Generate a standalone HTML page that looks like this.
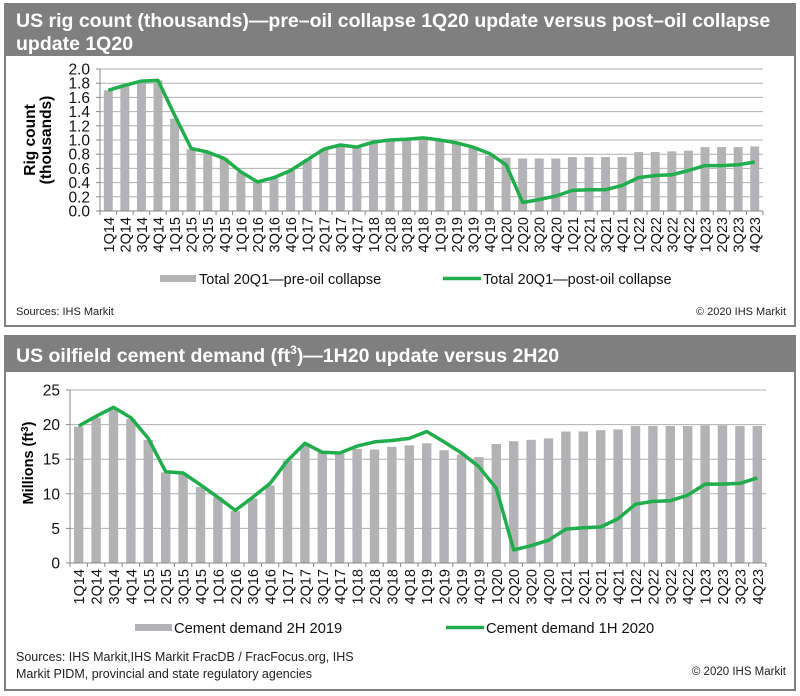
<!DOCTYPE html>
<html><head><meta charset="utf-8"><style>
body{margin:0;background:#fff;width:800px;height:696px;overflow:hidden;font-family:"Liberation Sans",Arial,sans-serif}
svg{display:block}
</style></head><body>
<svg id="s" width="800" height="696" xmlns="http://www.w3.org/2000/svg" font-family="Liberation Sans, Arial, sans-serif">
<rect x="5" y="4" width="790" height="322" fill="#fff" stroke="#7f7f7f" stroke-width="2"/>
<rect x="5" y="4" width="790" height="52" fill="#7f7f7f"/>
<text x="16" y="27" fill="#fff" font-size="19.5" font-weight="bold">US rig count (thousands)—pre–oil collapse 1Q20 update versus post–oil collapse</text>
<text x="16" y="50" fill="#fff" font-size="19.5" font-weight="bold">update 1Q20</text>
<rect x="5" y="336" width="790" height="354" fill="#fff" stroke="#7f7f7f" stroke-width="2"/>
<rect x="5" y="336" width="790" height="36" fill="#7f7f7f"/>
<text x="16" y="362" fill="#fff" font-size="19.5" font-weight="bold">US oilfield cement demand (ft<tspan font-size="12" dy="-8">3</tspan><tspan dy="8">)—1H20 update versus 2H20</tspan></text>
<g id="g"></g>
<text x="16" y="315" font-size="11" fill="#222">Sources: IHS Markit</text>
<text x="786" y="315" font-size="11" fill="#222" text-anchor="end">© 2020 IHS Markit</text>
<text x="16" y="661" font-size="12.5" fill="#222">Sources: IHS Markit,IHS Markit FracDB / FracFocus.org, IHS</text>
<text x="16" y="678" font-size="12.5" fill="#222">Markit PIDM, provincial and state regulatory agencies</text>
<text x="786" y="675" font-size="11.5" fill="#222" text-anchor="end">© 2020 IHS Markit</text>
<rect x="160" y="275" width="36" height="7" fill="#b3b3b6"/>
<text x="199" y="284" font-size="14.5" fill="#111">Total 20Q1—pre-oil collapse</text>
<line x1="443" y1="278.5" x2="481" y2="278.5" stroke="#1fae4b" stroke-width="3.5"/>
<text x="483" y="284" font-size="14.5" fill="#111">Total 20Q1—post-oil collapse</text>
<rect x="135" y="624" width="37" height="7" fill="#b3b3b6"/>
<text x="174" y="633" font-size="14.7" fill="#111">Cement demand 2H 2019</text>
<line x1="446" y1="627.5" x2="484" y2="627.5" stroke="#1fae4b" stroke-width="3.5"/>
<text x="486" y="633" font-size="14.7" fill="#111">Cement demand 1H 2020</text>
<text transform="translate(35,140) rotate(-90)" font-size="15.5" font-weight="bold" text-anchor="middle">Rig count</text>
<text transform="translate(51,140) rotate(-90)" font-size="15.5" font-weight="bold" text-anchor="middle">(thousands)</text>
<text transform="translate(33,463) rotate(-90)" font-size="14.5" font-weight="bold" text-anchor="middle">Millions (ft<tspan font-size="10" dy="-5">3</tspan><tspan dy="5">)</tspan></text>
</svg>
<script>
var NS="http://www.w3.org/2000/svg",g=document.getElementById("g");
function el(t,a,txt){var e=document.createElementNS(NS,t);for(var k in a)e.setAttribute(k,a[k]);if(txt!=null)e.textContent=txt;g.appendChild(e);return e;}
var cats=[];for(var y=14;y<=23;y++)for(var q=1;q<=4;q++)cats.push(q+"Q"+y);
function chart(o){
 var n=40,w=(o.x1-o.x0)/n,sc=(o.yb-o.yt)/o.max;
 for(var i=0;i<o.ticks.length;i++){var v=o.ticks[i],yy=o.yb-v*sc;
  if(v>0)el("line",{x1:o.x0,y1:yy,x2:o.x1,y2:yy,stroke:"#b0b0b0","stroke-width":1});
  el("line",{x1:o.x0-4,y1:yy,x2:o.x0,y2:yy,stroke:"#888"});
  el("text",{x:o.x0-10,y:yy+5.5,"font-size":15.5,"text-anchor":"end",fill:"#111"},o.fmt(v));}
 for(var i=0;i<n;i++){var cx=o.x0+w*(i+.5),h=o.bars[i]*sc;
  el("rect",{x:cx-w*0.27,y:o.yb-h,width:w*0.54,height:h,fill:"#b3b3b6"});
  el("line",{x1:o.x0+w*i,y1:o.yb,x2:o.x0+w*i,y2:o.yb+4,stroke:"#888"});
  el("text",{transform:"translate("+(cx+5.5)+","+(o.yb+6)+") rotate(-90)","font-size":14.5,"text-anchor":"end",fill:"#111"},cats[i]);}
 el("line",{x1:o.x1,y1:o.yb,x2:o.x1,y2:o.yb+4,stroke:"#888"});
 el("line",{x1:o.x0,y1:o.yt,x2:o.x0,y2:o.yb,stroke:"#888"});
 el("line",{x1:o.x0,y1:o.yb,x2:o.x1,y2:o.yb,stroke:"#888"});
 var p=o.line.map(function(v,i){return (o.x0+w*(i+.5)).toFixed(1)+","+(o.yb-v*sc).toFixed(1)}).join(" ");
 el("polyline",{points:p,fill:"none",stroke:"#1fae4b","stroke-width":3.5,"stroke-linejoin":"round"});
}
chart({x0:100,x1:763,yt:69,yb:211,max:2,ticks:[0,.2,.4,.6,.8,1,1.2,1.4,1.6,1.8,2],fmt:function(v){return v.toFixed(1)},
 bars:[1.70,1.78,1.83,1.84,1.30,0.87,0.82,0.74,0.55,0.42,0.46,0.57,0.72,0.87,0.92,0.91,0.97,1.00,1.00,1.02,1.00,0.96,0.90,0.78,0.75,0.74,0.74,0.74,0.76,0.76,0.76,0.76,0.83,0.83,0.84,0.85,0.90,0.90,0.90,0.91],
 line:[1.70,1.77,1.83,1.84,1.35,0.88,0.83,0.74,0.55,0.41,0.47,0.57,0.72,0.87,0.93,0.90,0.97,1.00,1.01,1.03,1.00,0.96,0.90,0.81,0.65,0.12,0.16,0.21,0.29,0.30,0.30,0.36,0.47,0.50,0.51,0.57,0.64,0.64,0.65,0.69]});
chart({x0:70,x1:766,yt:390,yb:563,max:25,ticks:[0,5,10,15,20,25],fmt:function(v){return v},
 bars:[19.7,21,22.3,20.8,17.8,13.1,12.8,11,9.5,7.5,9.3,11.2,14.8,17,16,15.8,16.5,16.4,16.8,17.0,17.3,16.3,15.7,15.3,17.2,17.6,17.8,18.0,19.0,19.0,19.2,19.3,19.8,19.8,19.8,19.8,19.9,19.9,19.8,19.8],
 line:[19.8,21.2,22.5,21,18,13.2,13,11.3,9.5,7.6,9.5,11.5,14.8,17.3,16,15.9,16.9,17.5,17.7,18.0,19.0,17.5,15.9,13.9,10.8,1.9,2.5,3.3,4.9,5.1,5.2,6.4,8.5,8.9,9.0,9.8,11.4,11.4,11.5,12.3]});
</script>
</body></html>
